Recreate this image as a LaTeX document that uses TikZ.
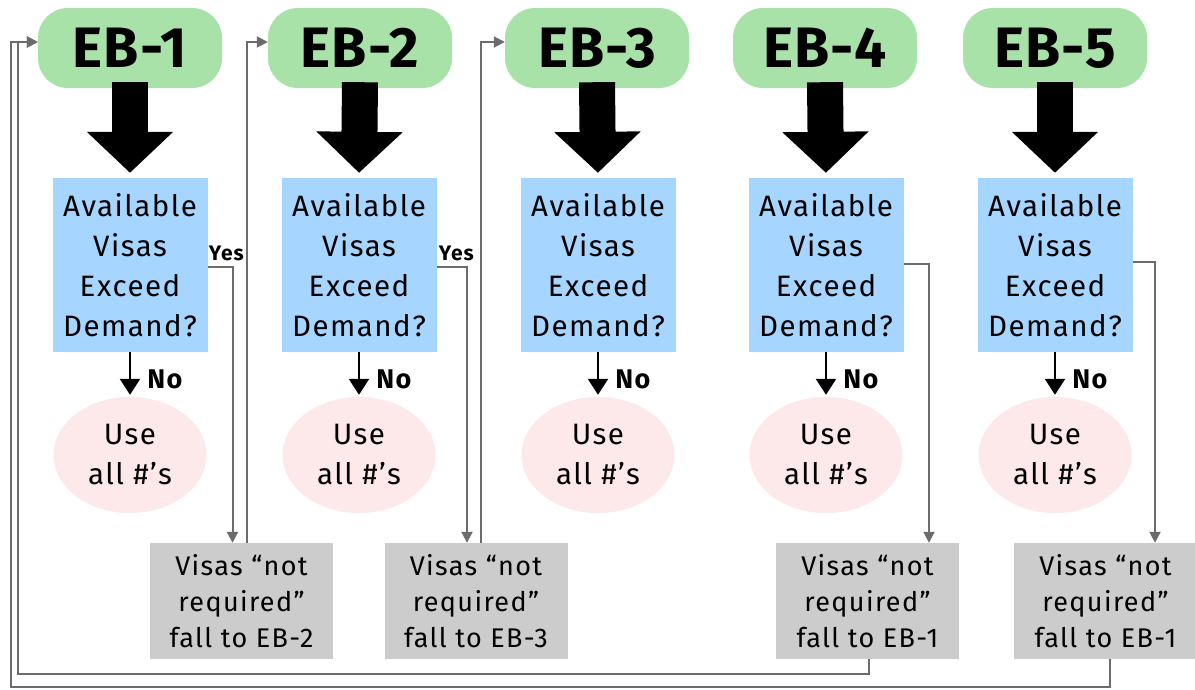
\documentclass[tikz,border=0pt]{standalone}
\usepackage{fontspec}
\setmainfont{Fira Sans}
\newfontfamily\widefont[LetterSpace=5]{Fira Sans}
\newfontfamily\pillfont[LetterSpace=2]{Fira Sans}
\usetikzlibrary{arrows.meta,shapes.geometric}
\definecolor{pillgreen}{RGB}{168,226,168}
\definecolor{qblue}{RGB}{166,214,255}
\definecolor{upink}{RGB}{253,233,233}
\definecolor{fgray}{RGB}{204,204,204}
\definecolor{lgray}{RGB}{108,108,108}
\begin{document}
\begin{tikzpicture}[x=1pt,y=-1pt,
  pill/.style={rounded corners=30pt, fill=pillgreen, minimum width=184pt,
    minimum height=80pt, inner sep=0pt, font=\pillfont\fontsize{57}{57}\selectfont\bfseries},
  question/.style={fill=qblue, minimum width=155pt, minimum height=174pt,
    inner sep=0pt, align=center, font=\widefont\fontsize{29.5}{40}\selectfont},
  useall/.style={ellipse, fill=upink, minimum width=153pt, minimum height=116pt,
    inner sep=0pt, align=center, font=\widefont\fontsize{29.5}{40}\selectfont},
  fallbox/.style={fill=fgray, minimum width=183pt, minimum height=116pt,
    inner sep=0pt, align=center, font=\widefont\fontsize{27}{36}\selectfont},
  bigarrow/.style={line width=36pt, -{Triangle[length=41pt,width=84pt]},
    shorten >=5pt},
  noarrow/.style={line width=2.5pt, -{Triangle[length=16pt,width=20pt]},
    shorten >=2pt},
  nolabel/.style={anchor=west, inner sep=0pt, font=\widefont\fontsize{27}{27}\selectfont\bfseries},
  yeslabel/.style={anchor=base west, inner sep=0pt, font=\widefont\fontsize{21}{21}\selectfont\bfseries},
  conn/.style={draw=lgray, line width=2pt, -{Triangle[length=11pt,width=11pt]}}
]
\fill[white] (0,0) rectangle (1195,689);
\useasboundingbox (0,0) rectangle (1195,689);

% preference categories
\node[pill] (eb1) at (130,48) {EB-1};
\node[pill] (eb2) at (360,48) {EB-2};
\node[pill] (eb3) at (597,48) {EB-3};
\node[pill] (eb4) at (825,48) {EB-4};
\node[pill] (eb5) at (1055,48) {EB-5};

% demand checks
\foreach \i/\x in {1/130,2/359,3/598,4/826,5/1055}{
  \node[question] (q\i) at (\x,265) {Available\\Visas\\Exceed\\Demand?};
  \node[useall] (u\i) at (\x,455) {Use\\all \#’s};
  \draw[bigarrow] ([yshift=6pt]eb\i.south) -- (q\i.north);
  \draw[noarrow] (q\i.south) -- node[nolabel, pos=0.6, xshift=16pt] {No} (u\i.north);
}

% unused visas
\node[fallbox] (g1) at (241.5,601) {Visas “not\\required”\\fall to EB-2};
\node[fallbox] (g2) at (476,601) {Visas “not\\required”\\fall to EB-3};
\node[fallbox] (g4) at (867.5,601) {Visas “not\\required”\\fall to EB-1};
\node[fallbox] (g5) at (1105.5,601) {Visas “not\\required”\\fall to EB-1};

% surplus branches
\draw[conn] ([yshift=-2pt]q1.east) -| ([xshift=-9pt]g1.north);
\node[yeslabel] (y1) at ([xshift=1pt,yshift=5pt]q1.east) {Yes};
\draw[conn] ([yshift=-2pt]q2.east) -| ([xshift=-9pt]g2.north);
\node[yeslabel] (y2) at ([xshift=2pt,yshift=5pt]q2.east) {Yes};
\draw[conn] ([yshift=1pt]q4.east) -| ([xshift=61.5pt]g4.north);
\draw[conn] ([yshift=3pt]q5.east) -| ([xshift=49.5pt]g5.north);

% fall-down to the next category
\draw[conn] ([xshift=5.5pt]g1.north) |- ([yshift=6pt]eb2.west);
\draw[conn] ([xshift=5pt]g2.north) |- ([yshift=6pt]eb3.west);

% fall-up to EB-1
\coordinate (l4) at (18,674);
\coordinate (l5) at (11,687);
\draw[conn] ([xshift=1.5pt]g4.south) |- (l4) |- ([yshift=6pt]eb1.west);
\draw[conn] ([xshift=4.5pt]g5.south) |- (l5) |- ([yshift=6pt]eb1.west);
\end{tikzpicture}
\end{document}
